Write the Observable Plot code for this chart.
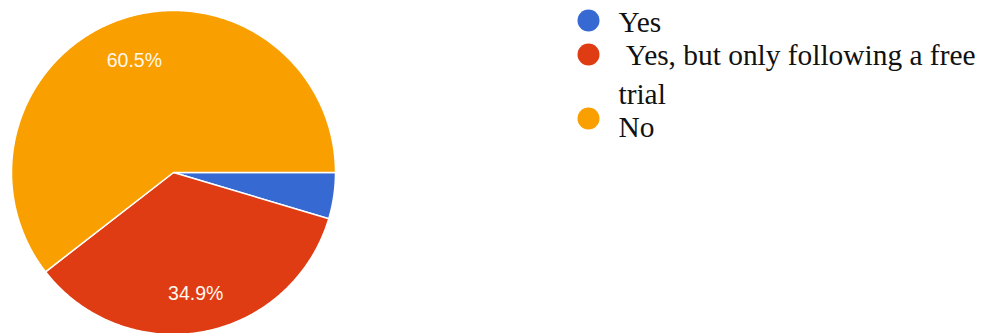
<!DOCTYPE html>
<html>
<head>
<meta charset="utf-8">
<script src="https://cdn.jsdelivr.net/npm/d3@7"></script>
<script src="https://cdn.jsdelivr.net/npm/@observablehq/plot@0.6"></script>
<style>
  html, body { margin: 0; padding: 0; background: #fff; }
  #chart svg { display: block; }
</style>
</head>
<body>
<div id="chart"></div>
<script>
// ---- data ----
const categories = ["Yes", "Yes, but only following a free trial", "No"];
const values = [4.6, 34.9, 60.5];
const shownLabels = ["", "34.9%", "60.5%"];
const colors = ["#3769d2", "#e03c14", "#fa9f00"];

// ---- layout ----
const W = 982, H = 333;
const cx = 173, cy = 172, R = 162;
const labelR = 0.745 * R;
const legendDotX = 588, legendTextX = 618;
const legendDotY = [20, 54, 118];
const legendBaseline = [32, 65, 137];
const legendFont = 29.4, legendLH = 1.3;

const pie = d3.pie().sort(null).value(d => d.value)
  .startAngle(Math.PI / 2).endAngle(Math.PI / 2 + 2 * Math.PI);
const rows = categories.map((c, i) => ({category: c, value: values[i], label: shownLabels[i]}));
const arcs = pie(rows);

const px = (a, r) => cx + r * Math.sin(a);
const py = (a, r) => cy - r * Math.cos(a);

const polyPoints = [];
arcs.forEach(a => {
  const key = a.data.category;
  polyPoints.push({key, x: cx, y: cy});
  const n = Math.max(4, Math.ceil((a.endAngle - a.startAngle) / 0.01));
  for (let k = 0; k <= n; k++) {
    const t = a.startAngle + (a.endAngle - a.startAngle) * k / n;
    polyPoints.push({key, x: px(t, R), y: py(t, R)});
  }
  polyPoints.push({key, x: cx, y: cy});
});

const labelPts = arcs.filter(a => a.data.label).map(a => {
  const m = (a.startAngle + a.endAngle) / 2;
  return {text: a.data.label, x: px(m, labelR), y: py(m, labelR)};
});

// the reference legend shows a leading space before the second entry
const legendRows = categories.map((c, i) => ({category: c, i, text: (i === 1 ? "\u00a0" : "") + c}));
// Plot places the first baseline 0.71 * lineHeight em below the anchor for lineAnchor "top"
const firstOffset = 0.71 * legendLH * legendFont;

const chart = Plot.plot({
  width: W,
  height: H,
  margin: 0,
  x: {type: "identity", axis: null},
  y: {type: "identity", axis: null},
  color: {domain: categories, range: colors},
  marks: [
    Plot.line(polyPoints, {
      x: "x", y: "y", z: "key", fill: "key",
      stroke: "white", strokeWidth: 1.5, strokeLinejoin: "round", curve: "linear"
    }),
    Plot.text(labelPts, {
      x: "x", y: "y", text: "text", fill: "#fff8ee", dy: 2.5,
      fontSize: 19.5, fontFamily: "Liberation Sans, Arial, sans-serif"
    }),
    Plot.dot(legendRows, {
      x: () => legendDotX, y: d => legendDotY[d.i], r: 11, fill: "category", stroke: null
    }),
    Plot.text(legendRows, {
      x: () => legendTextX, y: d => legendBaseline[d.i] - firstOffset, text: "text",
      textAnchor: "start", fill: "#111", fontSize: legendFont, lineWidth: 16, lineHeight: legendLH,
      lineAnchor: "top",
      fontFamily: "Liberation Serif, Times New Roman, serif"
    })
  ]
});
document.getElementById("chart").appendChild(chart);
</script>
</body>
</html>
